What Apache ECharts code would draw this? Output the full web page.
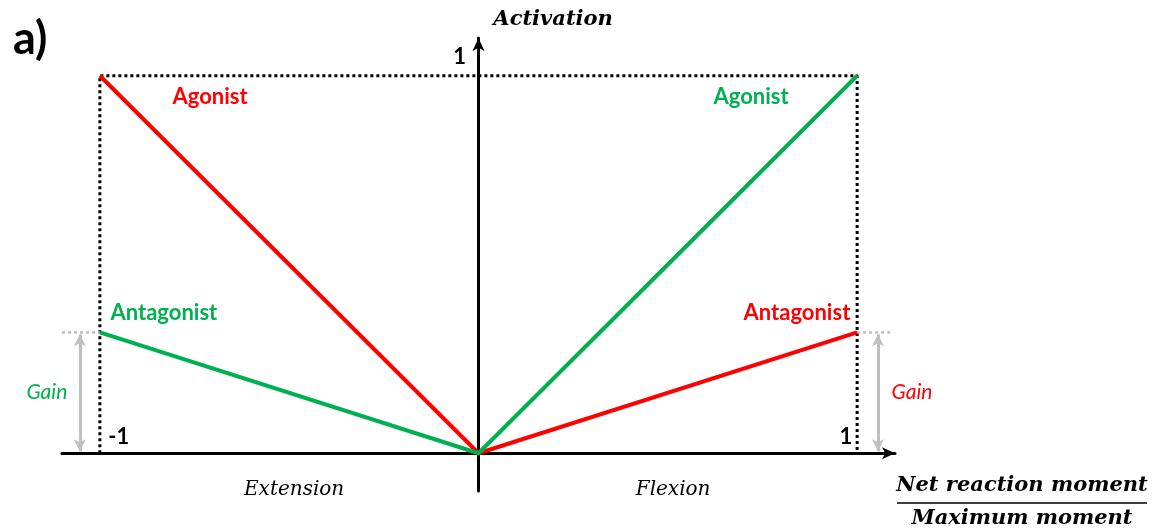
<!DOCTYPE html>
<html>
<head>
<meta charset="utf-8">
<script src="https://cdn.jsdelivr.net/npm/echarts@6/dist/echarts.min.js"></script>
<style>
  html, body { margin: 0; padding: 0; background: #fff; }
  #main { width: 1156px; height: 532px; }
</style>
</head>
<body>
<div id="main"></div>
<script>
// 数据
var moment = [-1, 0, 1]              // 净反应力矩 / 最大力矩
var redAct = [1, 0, 0.32]            // 红色：伸展时主动肌，屈曲时拮抗肌
var greenAct = [0.32, 0, 1]          // 绿色：屈曲时主动肌，伸展时拮抗肌
var frameX = [-1, -1, 1, 1]
var frameY = [0, 1, 1, 0]
var gain = 0.32

var RED = '#ff0000'
var GREEN = '#00b050'
var GREY = '#bfbfbf'
var SANS = 'Lato, "Open Sans", sans-serif'
var SERIF = '"DejaVu Serif", serif'

// 文字标注 [文本, x, y, 颜色, 字体]
var notes = [
  ['Agonist', -0.709, 0.944, RED, 'b'],
  ['Agonist', 0.72, 0.944, GREEN, 'b'],
  ['Antagonist', -0.831, 0.371, GREEN, 'b'],
  ['Antagonist', 0.841, 0.371, RED, 'b'],
  ['Gain', -1.14, 0.162, GREEN, 'i'],
  ['Gain', 1.145, 0.162, RED, 'i'],
  ['-1', -0.95, 0.042, '#000', 'b'],
  ['1', 0.97, 0.042, '#000', 'b'],
  ['1', -0.05, 1.05, '#000', 'b'],
  ['Extension', -0.487, -0.098, '#000', 's'],
  ['Flexion', 0.514, -0.098, '#000', 's'],
  ['Activation', 0.197, 1.149, '#000', 'sb']
]

function zip(xs, ys) {
  return xs.map(function (x, i) { return [x, ys[i]] })
}

var myChart = echarts.init(document.getElementById('main'))

var option = {
  animation: false,
  title: {
    text: 'a)',
    left: 8,
    top: 12,
    textStyle: { fontSize: 45, fontWeight: 'bold', fontFamily: SANS, color: '#000' }
  },
  grid: { left: 62, top: 38, width: 833, height: 453 },
  xAxis: {
    type: 'value', min: -1.1, max: 1.1,
    axisLine: { onZero: true, symbol: ['none', 'arrow'], symbolSize: [9, 13], lineStyle: { color: '#000', width: 3 } },
    axisTick: { show: false }, axisLabel: { show: false }, splitLine: { show: false }
  },
  yAxis: {
    type: 'value', min: -0.1, max: 1.1,
    axisLine: { onZero: true, symbol: ['none', 'arrow'], symbolSize: [9, 13], lineStyle: { color: '#000', width: 3 } },
    axisTick: { show: false }, axisLabel: { show: false }, splitLine: { show: false }
  },
  graphic: [{
    type: 'line',
    shape: { x1: 897, y1: 503, x2: 1147, y2: 503 },
    style: { stroke: '#000', lineWidth: 1.5 }
  }, {
    type: 'text', x: 1022, y: 486,
    style: { text: 'Net reaction moment', font: 'italic bold 21px "DejaVu Serif", serif', fill: '#000', align: 'center', verticalAlign: 'middle' }
  }, {
    type: 'text', x: 1022, y: 519,
    style: { text: 'Maximum moment', font: 'italic bold 21px "DejaVu Serif", serif', fill: '#000', align: 'center', verticalAlign: 'middle' }
  }],
  series: [{
    // 虚线框
    type: 'line', data: zip(frameX, frameY), symbol: 'none', silent: true,
    lineStyle: { color: '#000', width: 3, type: [3, 3] }
  }, {
    // 增益虚线
    type: 'line', data: [[-1.1, gain], [-1, gain]], symbol: 'none', silent: true, clip: false,
    lineStyle: { color: GREY, width: 2.5, type: [3, 3] }
  }, {
    type: 'line', data: [[1, gain], [1.095, gain]], symbol: 'none', silent: true, clip: false,
    lineStyle: { color: GREY, width: 2.5, type: [3, 3] },
    markLine: {
      silent: true,
      symbol: ['arrow', 'arrow'],
      symbolSize: [9, 12],
      label: { show: false },
      lineStyle: { color: GREY, width: 3, type: 'solid' },
      data: [
        [{ coord: [-1.053, 0.005] }, { coord: [-1.053, gain - 0.005] }],
        [{ coord: [1.055, 0.005] }, { coord: [1.055, gain - 0.005] }]
      ]
    }
  }, {
    name: 'red', type: 'line', data: zip(moment, redAct), symbol: 'none',
    lineStyle: { color: RED, width: 4 }, z: 3
  }, {
    name: 'green', type: 'line', data: zip(moment, greenAct), symbol: 'none',
    lineStyle: { color: GREEN, width: 4 }, z: 3
  }, {
    // 文字
    type: 'scatter', symbolSize: 0, clip: false, silent: true, z: 5,
    itemStyle: { opacity: 1 },
    data: notes.map(function (n) {
      var font = n[4] === 'sb'
        ? { fontFamily: SERIF, fontStyle: 'italic', fontWeight: 'bold', fontSize: 21 }
        : n[4] === 's'
          ? { fontFamily: SERIF, fontStyle: 'italic', fontWeight: 'normal', fontSize: 20 }
          : n[4] === 'i'
            ? { fontFamily: SANS, fontStyle: 'italic', fontWeight: 'normal', fontSize: 21 }
            : { fontFamily: SANS, fontWeight: 'bold', fontSize: 22 }
      return {
        value: [n[1], n[2]],
        itemStyle: { opacity: 1 },
        label: Object.assign({ show: true, position: 'inside', formatter: n[0], color: n[3], opacity: 1 }, font)
      }
    })
  }]
}

myChart.setOption(option)
</script>
</body>
</html>
